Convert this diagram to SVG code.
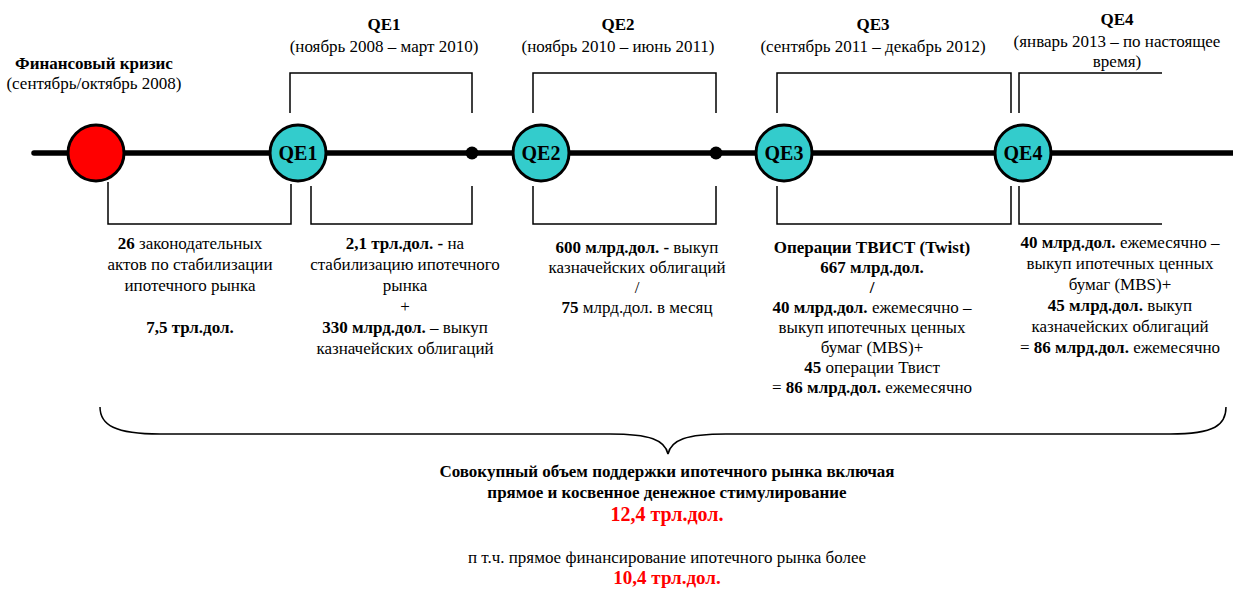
<svg xmlns="http://www.w3.org/2000/svg" width="1233" height="590" viewBox="0 0 1233 590">
<style>
text{font-family:"Liberation Serif","Times New Roman",serif;font-size:17px;fill:#000;text-anchor:middle}
.b{font-weight:bold}
.lbl{font-weight:bold;font-size:20px}
.red{fill:#FF0000;font-weight:bold;font-size:20px}
.br{fill:none;stroke:#000;stroke-width:1.5}
.qe{fill:#33CCCC;stroke:#000;stroke-width:3}
</style>
<rect width="1233" height="590" fill="#fff"/>
<g id="connectors">
<line x1="34" y1="153" x2="1233" y2="153" stroke="#000" stroke-width="5.5" stroke-linecap="round"/>
<polyline class="br" points="290,113 290,73 472,73 472,113"/>
<polyline class="br" points="533,113 533,73 716,73 716,113"/>
<polyline class="br" points="777,113 777,73 1011,73 1011,113"/>
<polyline class="br" points="1019,113 1019,73 1162,73"/>
<polyline class="br" points="108,182 108,224 291,224 291,184"/>
<polyline class="br" points="311,186 311,224 472,224 472,186"/>
<polyline class="br" points="533,186 533,224 716,224 716,186"/>
<polyline class="br" points="777,186 777,224 1011,224 1011,186"/>
<polyline class="br" points="1019,186 1019,224 1162,224"/>
<path class="br" d="M100,407 C100,425 115,434 160,434 L610,434 C650,434 665,440 668,454 C671,440 686,434 726,434 L1170,434 C1215,434 1226,425 1226,407" stroke-width="2"/>
</g>
<g id="crisis">
<circle cx="96" cy="153" r="28" fill="#FF0000" stroke="#000" stroke-width="3"/>
<text x="94" y="69" class="b">Финансовый кризис</text>
<text x="94" y="89">(сентябрь/октябрь 2008)</text>
<text x="190" y="249"><tspan class="b">26</tspan> законодательных</text>
<text x="190" y="270">актов по стабилизации</text>
<text x="190" y="291">ипотечного рынка</text>
<text x="190" y="333" class="b">7,5 трл.дол.</text>
</g>
<g id="qe1">
<circle class="qe" cx="298" cy="153" r="28"/>
<text x="298" y="160" class="lbl">QE1</text>
<text x="384" y="30" class="b">QE1</text>
<text x="384" y="52">(ноябрь 2008 – март 2010)</text>
<text x="405" y="249"><tspan class="b">2,1 трл.дол.  -</tspan> на</text>
<text x="405" y="270">стабилизацию ипотечного</text>
<text x="405" y="291">рынка</text>
<text x="405" y="312">+</text>
<text x="405" y="333"><tspan class="b">330 млрд.дол.</tspan> – выкуп</text>
<text x="405" y="354">казначейских облигаций</text>
</g>
<g id="dot1"><circle cx="472" cy="153" r="6.5" fill="#000"/></g>
<g id="qe2">
<circle class="qe" cx="541" cy="153" r="28"/>
<text x="541" y="160" class="lbl">QE2</text>
<text x="618" y="30" class="b">QE2</text>
<text x="618" y="52">(ноябрь 2010 – июнь 2011)</text>
<text x="637" y="253"><tspan class="b">600 млрд.дол.  -</tspan> выкуп</text>
<text x="637" y="273">казначейских облигаций</text>
<text x="637" y="293">/</text>
<text x="637" y="313"><tspan class="b">75</tspan> млрд.дол. в месяц</text>
</g>
<g id="dot2"><circle cx="716" cy="153" r="6.5" fill="#000"/></g>
<g id="qe3">
<circle class="qe" cx="784" cy="153" r="28"/>
<text x="784" y="160" class="lbl">QE3</text>
<text x="873" y="30" class="b">QE3</text>
<text x="873" y="52">(сентябрь 2011 – декабрь 2012)</text>
<text x="872" y="253" class="b">Операции ТВИСТ (Twist)</text>
<text x="872" y="273" class="b">667 млрд.дол.</text>
<text x="872" y="293" class="b">/</text>
<text x="872" y="313"><tspan class="b">40 млрд.дол.</tspan> ежемесячно –</text>
<text x="872" y="333">выкуп ипотечных ценных</text>
<text x="872" y="353">бумаг (MBS)+</text>
<text x="872" y="373"><tspan class="b">45</tspan> операции Твист</text>
<text x="872" y="393">= <tspan class="b">86 млрд.дол.</tspan> ежемесячно</text>
</g>
<g id="qe4">
<circle class="qe" cx="1023" cy="153" r="28"/>
<text x="1023" y="160" class="lbl">QE4</text>
<text x="1117" y="25" class="b">QE4</text>
<text x="1117" y="47">(январь 2013 – по настоящее</text>
<text x="1117" y="67">время)</text>
<text x="1120" y="248"><tspan class="b">40 млрд.дол.</tspan> ежемесячно –</text>
<text x="1120" y="269">выкуп ипотечных ценных</text>
<text x="1120" y="290">бумаг (MBS)+</text>
<text x="1120" y="311"><tspan class="b">45 млрд.дол.</tspan> выкуп</text>
<text x="1120" y="332">казначейских облигаций</text>
<text x="1120" y="353">= <tspan class="b">86 млрд.дол.</tspan> ежемесячно</text>
</g>
<g id="total">
<text x="667" y="477" class="b">Совокупный объем поддержки ипотечного рынка включая</text>
<text x="667" y="498" class="b">прямое и косвенное денежное стимулирование</text>
<text x="667" y="521" class="red">12,4 трл.дол.</text>
<text x="667" y="563">п т.ч. прямое финансирование ипотечного рынка более</text>
<text x="667" y="584" class="red" style="font-size:19px">10,4 трл.дол.</text>
</g>
</svg>
